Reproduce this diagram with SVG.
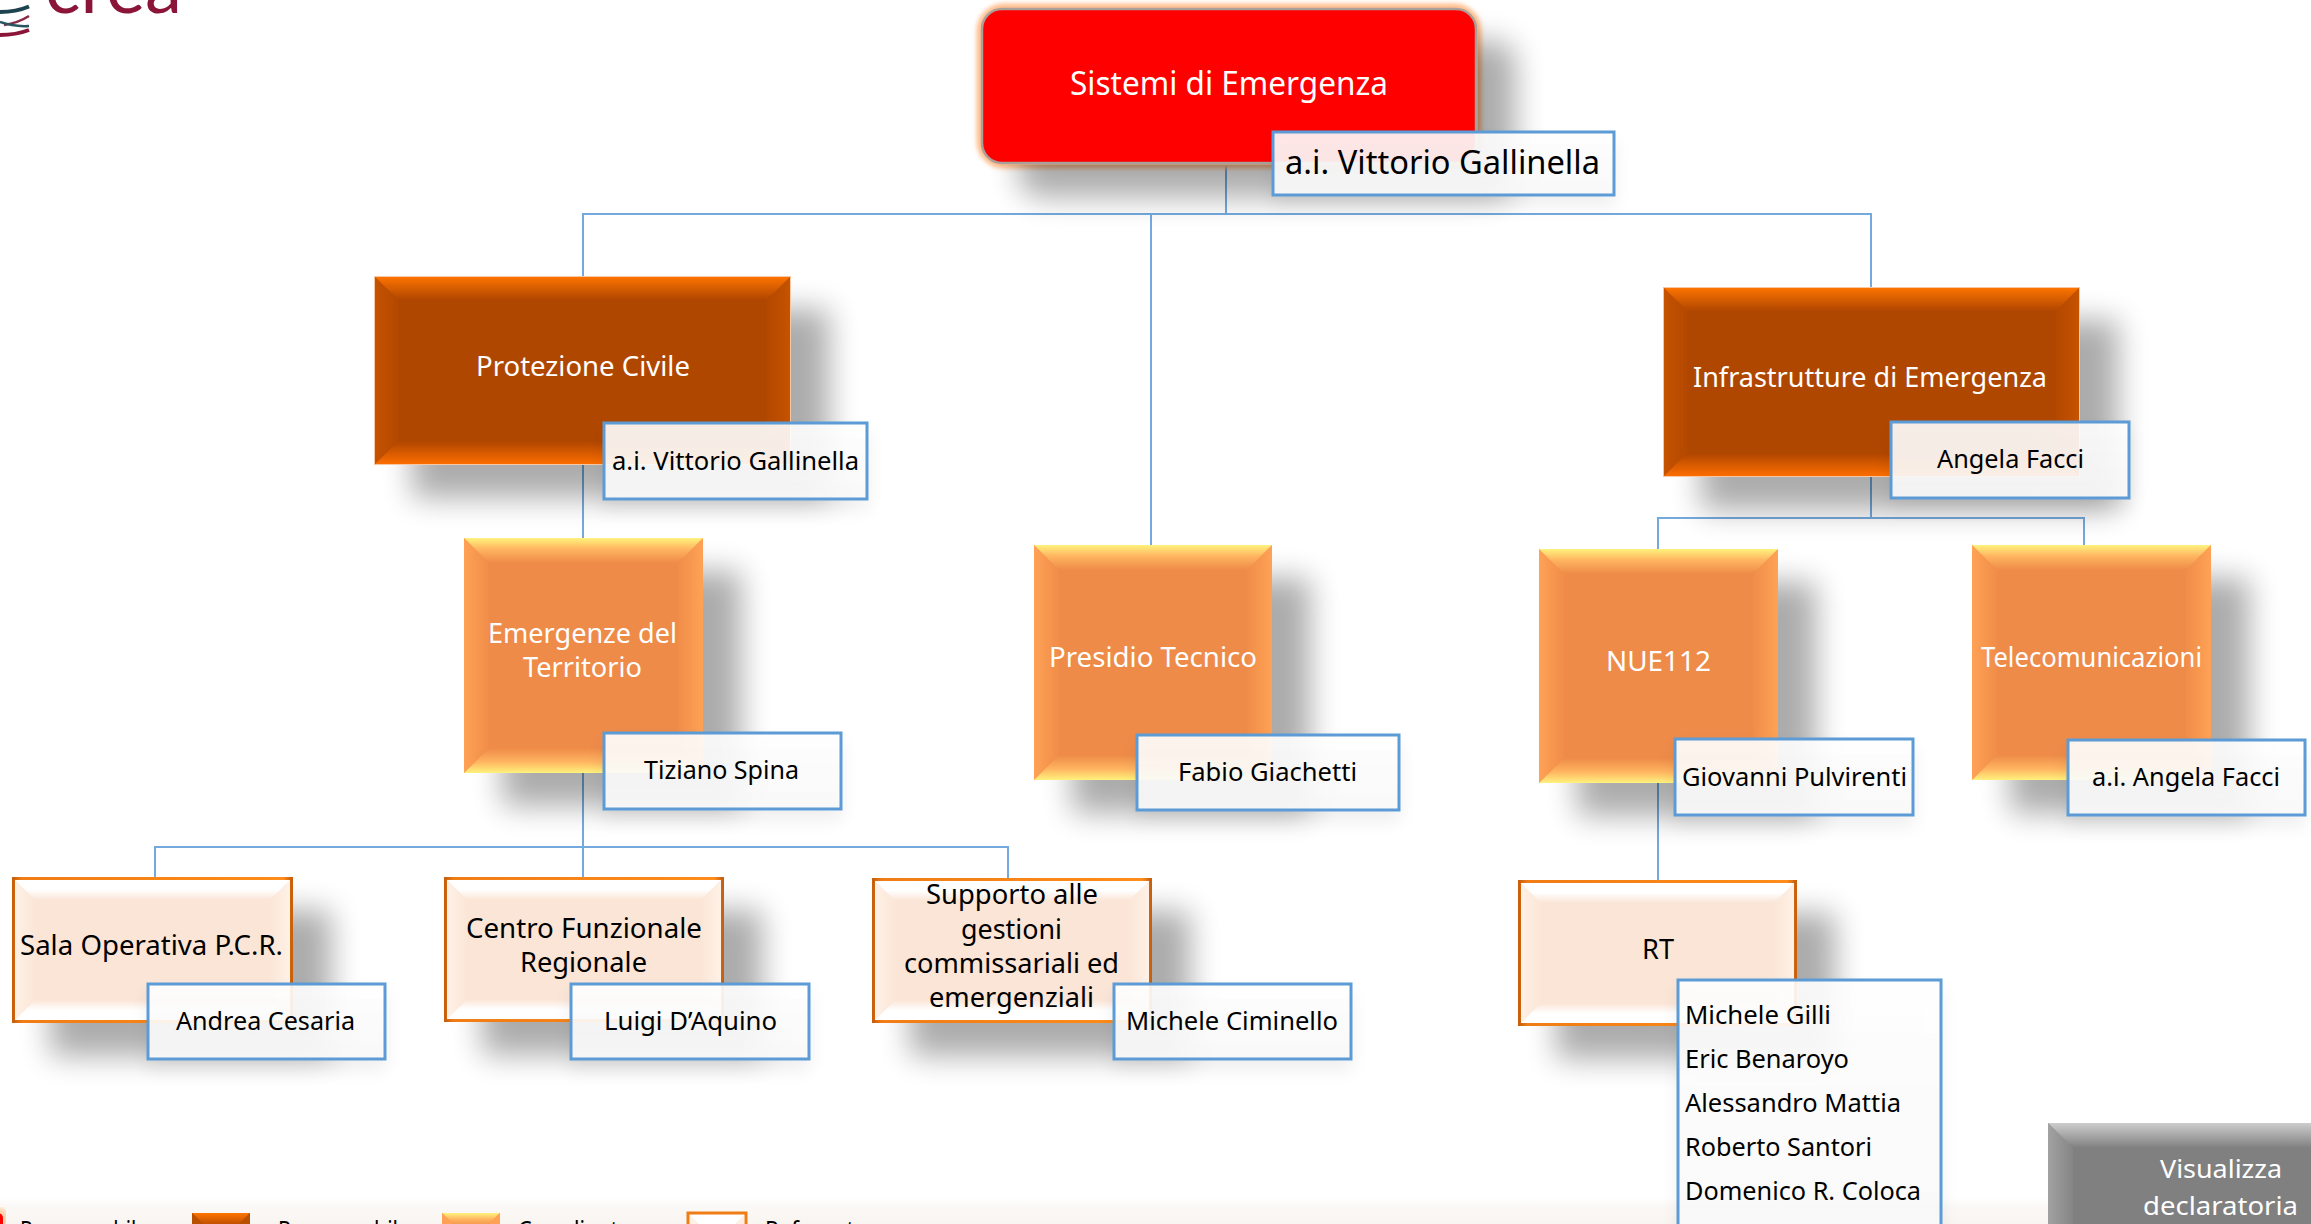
<svg xmlns="http://www.w3.org/2000/svg" width="2311" height="1224" viewBox="0 0 2311 1224">
<style>
text{font-family:"Noto Sans","Open Sans","Liberation Sans",sans-serif}
.w{fill:#fff}.k{fill:#000}
.s28{font-size:28px}.s26{font-size:26px}.s32{font-size:32px}
.c{fill:none;stroke:#74a9de;stroke-width:2}
.n{fill:url(#nameFill);stroke:#5b9bd5;stroke-width:3;filter:url(#nameShadow)}
.big{filter:url(#shadow)}
</style>
<defs>
<filter id="shadow" x="-40%" y="-40%" width="190%" height="190%"><feGaussianBlur in="SourceAlpha" stdDeviation="15"/><feOffset dx="38" dy="33"/><feComponentTransfer><feFuncA type="linear" slope="0.33"/></feComponentTransfer><feMerge><feMergeNode/><feMergeNode in="SourceGraphic"/></feMerge></filter>
<filter id="nameShadow" x="-20%" y="-30%" width="140%" height="170%"><feGaussianBlur in="SourceAlpha" stdDeviation="9"/><feOffset dx="0" dy="10"/><feComponentTransfer><feFuncA type="linear" slope="0.07"/></feComponentTransfer><feMerge><feMergeNode/><feMergeNode in="SourceGraphic"/></feMerge></filter>
<filter id="glow" x="-5%" y="-15%" width="110%" height="130%"><feGaussianBlur stdDeviation="2"/></filter>
<linearGradient id="nameFill" x1="0" y1="0" x2="0" y2="1"><stop offset="0" stop-color="#fff" stop-opacity=".9"/><stop offset="1" stop-color="#f8f8f8" stop-opacity=".92"/></linearGradient>
<linearGradient id="dT" x1="0" y1="0" x2="0" y2="1"><stop offset="0" stop-color="#ff7500"/><stop offset="1" stop-color="#b04600"/></linearGradient>
<linearGradient id="dB" x1="0" y1="1" x2="0" y2="0"><stop offset="0" stop-color="#ff6f00"/><stop offset="1" stop-color="#b04600"/></linearGradient>
<linearGradient id="dL" x1="0" y1="0" x2="1" y2="0"><stop offset="0" stop-color="#c65300"/><stop offset="1" stop-color="#b44900"/></linearGradient>
<linearGradient id="dR" x1="1" y1="0" x2="0" y2="0"><stop offset="0" stop-color="#c65300"/><stop offset="1" stop-color="#b44900"/></linearGradient>
<linearGradient id="mT" x1="0" y1="0" x2="0" y2="1"><stop offset="0" stop-color="#fff27c"/><stop offset=".45" stop-color="#ffb460"/><stop offset="1" stop-color="#ee8b48"/></linearGradient>
<linearGradient id="mB" x1="0" y1="1" x2="0" y2="0"><stop offset="0" stop-color="#fff27c"/><stop offset=".45" stop-color="#ffb460"/><stop offset="1" stop-color="#ee8b48"/></linearGradient>
<linearGradient id="mL" x1="0" y1="0" x2="1" y2="0"><stop offset="0" stop-color="#ffa255"/><stop offset="1" stop-color="#f08d4a"/></linearGradient>
<linearGradient id="mR" x1="1" y1="0" x2="0" y2="0"><stop offset="0" stop-color="#ffa255"/><stop offset="1" stop-color="#f08d4a"/></linearGradient>
<linearGradient id="rT" x1="0" y1="0" x2="0" y2="1"><stop offset="0" stop-color="#fff"/><stop offset=".55" stop-color="#fff"/><stop offset="1" stop-color="#fbe5d6"/></linearGradient>
<linearGradient id="rB" x1="0" y1="1" x2="0" y2="0"><stop offset="0" stop-color="#fff"/><stop offset=".55" stop-color="#fff"/><stop offset="1" stop-color="#fbe5d6"/></linearGradient>
<linearGradient id="rL" x1="0" y1="0" x2="1" y2="0"><stop offset="0" stop-color="#fff3e8"/><stop offset="1" stop-color="#fbe6d7"/></linearGradient>
<linearGradient id="rR" x1="1" y1="0" x2="0" y2="0"><stop offset="0" stop-color="#fff3e8"/><stop offset="1" stop-color="#fbe6d7"/></linearGradient>
<linearGradient id="rS" x1="0" y1="0" x2="1" y2="0"><stop offset="0" stop-color="#c8600f"/><stop offset=".03" stop-color="#f07c14"/><stop offset=".97" stop-color="#ff8c1a"/><stop offset="1" stop-color="#c8600f"/></linearGradient>
<linearGradient id="gT" x1="0" y1="0" x2="0" y2="1"><stop offset="0" stop-color="#cdcdcd"/><stop offset="1" stop-color="#808080"/></linearGradient>
<linearGradient id="gL" x1="0" y1="0" x2="1" y2="0"><stop offset="0" stop-color="#a2a2a2"/><stop offset="1" stop-color="#858585"/></linearGradient>
<linearGradient id="band" x1="0" y1="0" x2="0" y2="1"><stop offset="0" stop-color="#fff"/><stop offset=".3" stop-color="#fbf9f7"/><stop offset="1" stop-color="#f9f5f1"/></linearGradient>
<symbol id="dark" viewBox="0 0 416 190" preserveAspectRatio="none">
<rect width="416" height="190" fill="#b04600"/>
<polygon points="0,0 24,24 24,166 0,190" fill="url(#dL)"/><polygon points="416,0 392,24 392,166 416,190" fill="url(#dR)"/>
<polygon points="0,0 416,0 392,24 24,24" fill="url(#dT)"/><polygon points="0,190 416,190 392,166 24,166" fill="url(#dB)"/>
<rect x=".5" y=".5" width="415" height="189" fill="none" stroke="#f8c8a4" stroke-width="1"/>
</symbol>
<symbol id="mid" viewBox="0 0 239 235" preserveAspectRatio="none">
<rect width="239" height="235" fill="#ee8b48"/>
<polygon points="0,0 25,25 25,210 0,235" fill="url(#mL)"/><polygon points="239,0 214,25 214,210 239,235" fill="url(#mR)"/>
<polygon points="0,0 239,0 214,25 25,25" fill="url(#mT)"/><polygon points="0,235 239,235 214,210 25,210" fill="url(#mB)"/>
</symbol>
<symbol id="ref" viewBox="0 0 280 146" preserveAspectRatio="none">
<rect width="280" height="146" fill="#fbe5d6"/>
<polygon points="0,0 23,23 23,123 0,146" fill="url(#rL)"/><polygon points="280,0 257,23 257,123 280,146" fill="url(#rR)"/>
<polygon points="0,0 280,0 257,23 23,23" fill="url(#rT)"/><polygon points="0,146 280,146 257,123 23,123" fill="url(#rB)"/>
<rect x="1.5" y="1.5" width="277" height="143" fill="none" stroke="url(#rS)" stroke-width="3"/>
</symbol>
</defs>
<rect width="2311" height="1224" fill="#fff"/>
<rect y="1198" width="2311" height="26" fill="url(#band)"/>

<g id="logo">
<text x="45" y="13" font-size="74" textLength="137" lengthAdjust="spacingAndGlyphs" fill="#8a1538" style="font-family:Lato,'Open Sans',sans-serif">crea</text>
<path d="M0 12Q16 12 29 6.500" fill="none" stroke="#1d4350" stroke-width="4"/>
<path d="M4 25Q18 23 29 16" fill="none" stroke="#8a2a45" stroke-width="2.500"/>
<path d="M0 22Q14 27 29 26" fill="none" stroke="#2a5560" stroke-width="2.500"/>
<path d="M0 35Q16 35 29 30" fill="none" stroke="#8a1538" stroke-width="4"/>
</g>

<g id="connectors">
<path class="c" d="M1226 165V214"/>
<path class="c" d="M583 276V214H1871V287"/>
<path class="c" d="M1151 214V545"/>
<path class="c" d="M583 465V538"/>
<path class="c" d="M583 773V877"/>
<path class="c" d="M155 877V847H1008V878"/>
<path class="c" d="M1871 477V518"/>
<path class="c" d="M1658 549V518H2084V546"/>
<path class="c" d="M1658 783V881"/>
</g>

<g id="node-sistemi">
<rect x="982" y="9" width="494" height="154" rx="22" fill="#ffb98a" stroke="#ffbd8c" stroke-width="11" filter="url(#glow)"/>
<rect x="982" y="9" width="494" height="154" rx="20" fill="#f00" stroke="#a9a09a" stroke-width="2.500" class="big"/>
<text class="w s32" x="1070" y="95" textLength="318" lengthAdjust="spacingAndGlyphs">Sistemi di Emergenza</text>
<rect class="n" x="1273" y="132" width="341" height="63"/>
<text class="k s32" x="1285" y="174" textLength="315" lengthAdjust="spacingAndGlyphs">a.i. Vittorio Gallinella</text>
</g>

<g id="node-protezione">
<use href="#dark" class="big" x="374" y="276" width="417" height="189"/>
<text class="w s28" x="476" y="376" textLength="214" lengthAdjust="spacingAndGlyphs">Protezione Civile</text>
<rect class="n" x="604" y="423" width="263" height="76"/>
<text class="k s26" x="612" y="470" textLength="247" lengthAdjust="spacingAndGlyphs">a.i. Vittorio Gallinella</text>
</g>

<g id="node-infrastrutture">
<use href="#dark" class="big" x="1663" y="287" width="417" height="190"/>
<text class="w s28" x="1693" y="387" textLength="354" lengthAdjust="spacingAndGlyphs">Infrastrutture di Emergenza</text>
<rect class="n" x="1891" y="422" width="238" height="76"/>
<text class="k s26" x="1937" y="468" textLength="147" lengthAdjust="spacingAndGlyphs">Angela Facci</text>
</g>

<g id="node-emergenze">
<use href="#mid" class="big" x="464" y="538" width="239" height="235"/>
<text class="w s28" x="488" y="643" textLength="189" lengthAdjust="spacingAndGlyphs">Emergenze del</text>
<text class="w s28" x="523" y="677" textLength="119" lengthAdjust="spacingAndGlyphs">Territorio</text>
<rect class="n" x="604" y="733" width="237" height="76"/>
<text class="k s26" x="644" y="779" textLength="155" lengthAdjust="spacingAndGlyphs">Tiziano Spina</text>
</g>

<g id="node-presidio">
<use href="#mid" class="big" x="1034" y="545" width="238" height="235"/>
<text class="w s28" x="1049" y="667" textLength="208" lengthAdjust="spacingAndGlyphs">Presidio Tecnico</text>
<rect class="n" x="1137" y="735" width="262" height="75"/>
<text class="k s26" x="1178" y="781" textLength="179" lengthAdjust="spacingAndGlyphs">Fabio Giachetti</text>
</g>

<g id="node-nue">
<use href="#mid" class="big" x="1539" y="549" width="239" height="234"/>
<text class="w s28" x="1606" y="671" textLength="105" lengthAdjust="spacingAndGlyphs">NUE112</text>
<rect class="n" x="1675" y="739" width="238" height="76"/>
<text class="k s26" x="1682" y="786" textLength="225" lengthAdjust="spacingAndGlyphs">Giovanni Pulvirenti</text>
</g>

<g id="node-telecomunicazioni">
<use href="#mid" class="big" x="1972" y="545" width="239" height="235"/>
<text class="w s28" x="1981" y="667" textLength="221" lengthAdjust="spacingAndGlyphs">Telecomunicazioni</text>
<rect class="n" x="2068" y="740" width="237" height="75"/>
<text class="k s26" x="2092" y="786" textLength="188" lengthAdjust="spacingAndGlyphs">a.i. Angela Facci</text>
</g>

<g id="node-sala">
<use href="#ref" class="big" x="12" y="877" width="281" height="146"/>
<text class="k s28" x="20" y="955" textLength="263" lengthAdjust="spacingAndGlyphs">Sala Operativa P.C.R.</text>
<rect class="n" x="148" y="984" width="237" height="75"/>
<text class="k s26" x="176" y="1030" textLength="179" lengthAdjust="spacingAndGlyphs">Andrea Cesaria</text>
</g>

<g id="node-centro">
<use href="#ref" class="big" x="444" y="877" width="280" height="145"/>
<text class="k s28" x="466" y="938" textLength="236" lengthAdjust="spacingAndGlyphs">Centro Funzionale</text>
<text class="k s28" x="520" y="972" textLength="127" lengthAdjust="spacingAndGlyphs">Regionale</text>
<rect class="n" x="571" y="984" width="238" height="75"/>
<text class="k s26" x="604" y="1030" textLength="173" lengthAdjust="spacingAndGlyphs">Luigi D’Aquino</text>
</g>

<g id="node-supporto">
<use href="#ref" class="big" x="872" y="878" width="280" height="145"/>
<text class="k s28" x="926" y="904" textLength="172" lengthAdjust="spacingAndGlyphs">Supporto alle</text>
<text class="k s28" x="961" y="939" textLength="101" lengthAdjust="spacingAndGlyphs">gestioni</text>
<text class="k s28" x="904" y="973" textLength="215" lengthAdjust="spacingAndGlyphs">commissariali ed</text>
<text class="k s28" x="929" y="1007" textLength="165" lengthAdjust="spacingAndGlyphs">emergenziali</text>
<rect class="n" x="1114" y="984" width="237" height="75"/>
<text class="k s26" x="1126" y="1030" textLength="212" lengthAdjust="spacingAndGlyphs">Michele Ciminello</text>
</g>

<g id="node-rt">
<use href="#ref" class="big" x="1518" y="880" width="279" height="146"/>
<text class="k s28" x="1642" y="959" textLength="32" lengthAdjust="spacingAndGlyphs">RT</text>
<rect class="n" x="1678" y="980" width="263" height="270"/>
<text class="k s26" x="1685" y="1024" textLength="146" lengthAdjust="spacingAndGlyphs">Michele Gilli</text>
<text class="k s26" x="1685" y="1068" textLength="164" lengthAdjust="spacingAndGlyphs">Eric Benaroyo</text>
<text class="k s26" x="1685" y="1112" textLength="216" lengthAdjust="spacingAndGlyphs">Alessandro Mattia</text>
<text class="k s26" x="1685" y="1156" textLength="187" lengthAdjust="spacingAndGlyphs">Roberto Santori</text>
<text class="k s26" x="1685" y="1200" textLength="236" lengthAdjust="spacingAndGlyphs">Domenico R. Coloca</text>
</g>

<g id="node-visualizza">
<rect x="2048" y="1123" width="263" height="101" fill="#808080"/>
<polygon points="2048,1123 2073,1148 2073,1224 2048,1224" fill="url(#gL)"/>
<polygon points="2048,1123 2311,1123 2311,1148 2073,1148" fill="url(#gT)"/>
<text class="w s26" x="2160" y="1178" textLength="122" lengthAdjust="spacingAndGlyphs">Visualizza</text>
<text class="w s26" x="2143" y="1215" textLength="155" lengthAdjust="spacingAndGlyphs">declaratoria</text>
</g>

<g id="legend">
<rect x="-40" y="1213" width="43" height="40" rx="5" fill="#ffbd8c" stroke="#ffd0ac" stroke-width="11" filter="url(#glow)"/>
<rect x="-40" y="1213" width="43" height="40" rx="5" fill="#f00"/>
<text class="k s26" x="20" y="1239" textLength="128" lengthAdjust="spacingAndGlyphs">Responsabile</text>
<rect x="192" y="1213" width="58" height="12" fill="#b04600"/>
<polygon points="192,1213 250,1213 236,1227 206,1227" fill="url(#dT)"/>
<polygon points="192,1213 206,1227 192,1227" fill="#b85000"/><polygon points="250,1213 236,1227 250,1227" fill="#b85000"/>
<text class="k s26" x="278" y="1239" textLength="132" lengthAdjust="spacingAndGlyphs">Responsabile</text>
<rect x="442" y="1213" width="58" height="12" fill="#ee8b48"/>
<polygon points="442,1213 500,1213 486,1227 456,1227" fill="url(#mT)"/>
<polygon points="442,1213 456,1227 442,1227" fill="#ffa255"/><polygon points="500,1213 486,1227 500,1227" fill="#ffa255"/>
<text class="k s26" x="518" y="1239" textLength="134" lengthAdjust="spacingAndGlyphs">Coordinatore</text>
<rect x="688" y="1213" width="58" height="14" fill="#fff" stroke="#ef7d14" stroke-width="3"/>
<polygon points="690,1215 704,1229 690,1229" fill="#fff0e4"/><polygon points="744,1215 730,1229 744,1229" fill="#fff0e4"/>
<text class="k s26" x="765" y="1239" textLength="102" lengthAdjust="spacingAndGlyphs">Referente</text>
</g>
</svg>
